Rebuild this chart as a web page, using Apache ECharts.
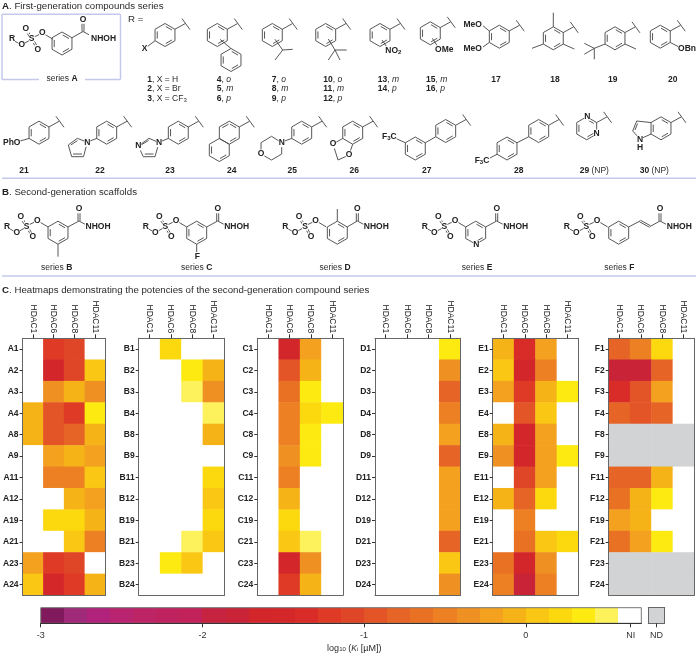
<!DOCTYPE html>
<html>
<head>
<meta charset="utf-8">
<style>html,body{margin:0;padding:0;background:#fff}#main{width:696px;height:655px}</style>
<script src="https://cdn.jsdelivr.net/npm/echarts@6/dist/echarts.min.js"></script>
</head>
<body>
<div id="main"></div>
<script>
var NI = 'NI', ND = 'ND';
var enzymes = ['HDAC1', 'HDAC6', 'HDAC8', 'HDAC11'];
var compoundNumbers = [1, 2, 3, 4, 8, 9, 11, 12, 19, 21, 23, 24];

var seriesA = [
	[NI, -1.21, -1.07, NI], [NI, -1.64, -1.07, 0.07], [NI, -0.36, -0.07, -0.36], [-0.07, -0.93, -1.21, 0.36],
	[-0.07, -0.93, -0.79, -0.07], [NI, -0.21, -0.07, -0.21], [NI, -0.5, -0.5, 0.07], [NI, NI, -0.07, -0.21],
	[NI, 0.21, 0.21, -0.07], [NI, NI, 0.07, -0.5], [-0.21, -1.21, -1.07, NI], [0.07, -1.5, -1.21, -0.07]
];
var seriesB = [
	[NI, 0.21, NI, NI], [NI, NI, 0.36, -0.07], [NI, NI, 0.5, -0.36], [NI, NI, NI, 0.5],
	[NI, NI, NI, -0.07], [NI, NI, NI, NI], [NI, NI, NI, 0.21], [NI, NI, NI, 0.07],
	[NI, NI, NI, 0.21], [NI, NI, 0.5, 0.07], [NI, 0.36, 0.07, NI], [NI, NI, NI, NI]
];
var seriesC = [
	[NI, -1.64, -0.21, NI], [NI, -0.93, -0.07, NI], [NI, -0.64, 0.36, NI], [NI, -0.5, 0.21, 0.36],
	[NI, -0.5, 0.36, NI], [NI, -0.36, 0.36, NI], [NI, -0.5, NI, NI], [NI, -0.07, NI, NI],
	[NI, 0.21, NI, NI], [NI, 0.07, 0.5, NI], [NI, -1.64, -0.36, NI], [NI, -1.21, -0.07, NI]
];
var seriesD = [
	[NI, NI, NI, 0.36], [NI, NI, NI, -0.36], [NI, NI, NI, -0.79], [NI, NI, NI, -0.5],
	[NI, NI, NI, -0.21], [NI, NI, NI, -0.79], [NI, NI, NI, -0.21], [NI, NI, NI, -0.21],
	[NI, NI, NI, -0.21], [NI, NI, NI, -0.79], [NI, NI, NI, 0.07], [NI, NI, NI, -0.36]
];
var seriesE = [
	[-0.07, -1.36, -0.21, NI], [0.07, -1.64, -0.5, NI], [-0.21, -1.21, -0.07, 0.36], [NI, -0.93, 0.07, NI],
	[-0.07, -1.64, -0.21, NI], [-0.36, -1.64, -0.21, 0.36], [NI, -1.07, -0.21, NI], [-0.07, -0.79, 0.21, NI],
	[NI, -0.5, NI, NI], [NI, -0.64, 0.07, 0.21], [-0.64, -1.64, -0.36, NI], [-0.5, -1.79, -0.5, NI]
];
var seriesF = [
	[-0.79, -0.5, 0.21, NI], [-1.79, -1.79, -0.79, NI], [-1.36, -0.93, -0.21, NI], [-0.79, -0.93, -0.79, NI],
	[ND, ND, ND, ND], [ND, ND, ND, ND], [-0.79, -0.79, -0.07, NI], [-0.64, -0.07, 0.36, NI],
	[-0.21, -0.07, NI, NI], [-0.64, -0.21, 0.36, NI], [ND, ND, ND, ND], [ND, ND, ND, ND]
];
var panelLetters = ['A', 'B', 'C', 'D', 'E', 'F'];
var panelValues = [seriesA, seriesB, seriesC, seriesD, seriesE, seriesF];
var panelLefts = [20, 138.7, 257.3, 375, 492.7, 608.7];

// colour bar: 7 steps per log unit from -3, the last step is the white NI one
var barColors = ['#801a5c', '#a02a7a', '#b0227c', '#b8246f', '#bc2466', '#bf235f', '#c1225a', '#c62340', '#c92338',
	'#d2262a', '#d4272a', '#d92b27', '#de3a25', '#df4627', '#e35527', '#e66526', '#e97124', '#ec8023', '#ef9122',
	'#f3a11e', '#f6b318', '#f9c714', '#fcd80f', '#fcea10', '#fdf15c', '#ffffff'];
var barStart = -3, barStep = 1 / 7, niTick = 0.649;
var barTicks = [-3, -2, -1, 0, niTick];
var NDcolor = '#d1d3d4';

function cellColor(v) {
	if (v === NI) return '#fff';
	if (v === ND) return NDcolor;
	return barColors[Math.floor((v - barStart) / barStep)];
}

// ---------- heatmaps ----------
var grids = [], xAxes = [], yAxes = [], series = [];
var frame = {lineStyle: {color: '#666', width: 1}};
var tickStyle = {color: '#333', width: 1};
panelLetters.forEach(function (letter, p) {
	var names = compoundNumbers.map(function (n) { return letter + n; });
	var data = [];
	panelValues[p].forEach(function (row, r) {
		row.forEach(function (v, c) {
			data.push({value: [c, r, v === NI || v === ND ? 0 : v], itemStyle: {color: cellColor(v)}});
		});
	});
	grids.push({left: panelLefts[p], top: 338.3, width: 85.6, height: 257});
	xAxes.push({
		gridIndex: p, type: 'category', position: 'top', data: enzymes, z: 5, axisLine: frame,
		axisTick: {show: true, alignWithLabel: true, length: 4, lineStyle: tickStyle},
		axisLabel: {rotate: 90, margin: 5, fontSize: 8.5, color: '#222', interval: 0, fontFamily: 'Liberation Sans'},
		splitLine: {show: false}
	});
	xAxes.push({
		gridIndex: p, type: 'category', position: 'bottom', data: enzymes, z: 5, axisLine: frame,
		axisTick: {show: false}, axisLabel: {show: false}
	});
	yAxes.push({
		gridIndex: p, type: 'category', inverse: true, position: 'left', data: names, z: 5, axisLine: frame,
		axisTick: {show: true, alignWithLabel: true, length: 3, lineStyle: tickStyle},
		axisLabel: {margin: 4, fontSize: 8.5, fontWeight: 'bold', color: '#222', interval: 0, fontFamily: 'Liberation Sans'},
		splitLine: {show: false}
	});
	yAxes.push({
		gridIndex: p, type: 'category', inverse: true, position: 'right', data: names, z: 5, axisLine: frame,
		axisTick: {show: false}, axisLabel: {show: false}
	});
	series.push({type: 'heatmap', xAxisIndex: p * 2, yAxisIndex: p * 2, data: data, silent: true});
});

// ---------- colour bar and ND box ----------
var barGrid = grids.length;
grids.push({left: 40.7, top: 607.7, width: 600.6, height: 15.6, show: true, borderColor: '#777', borderWidth: 1, z: 5, backgroundColor: 'transparent'});
xAxes.push({
	gridIndex: barGrid, type: 'value', min: barStart, max: barStart + barColors.length * barStep, z: 5,
	axisLine: {lineStyle: {color: '#333', width: 1}}, splitLine: {show: false},
	axisTick: {show: true, length: 4, customValues: barTicks, lineStyle: tickStyle},
	axisLabel: {margin: 8, fontSize: 9, color: '#333', customValues: barTicks, fontFamily: 'Liberation Sans',
		formatter: function (v) { return v === niTick ? NI : String(v); }}
});
yAxes.push({gridIndex: barGrid, type: 'value', min: 0, max: 1, show: false, splitLine: {show: false}});
series.push({
	type: 'custom', xAxisIndex: xAxes.length - 1, yAxisIndex: yAxes.length - 1, silent: true, z: 3,
	data: barColors.map(function (c, i) { return [barStart + i * barStep, barStart + (i + 1) * barStep]; }),
	renderItem: function (params, api) {
		var a = api.coord([api.value(0), 0]), b = api.coord([api.value(1), 1]);
		var x0 = Math.round(a[0]), x1 = Math.round(b[0]);
		return {type: 'rect', shape: {x: x0, y: b[1], width: x1 - x0, height: a[1] - b[1]},
			style: {fill: barColors[params.dataIndex]}};
	}
});
var ndGrid = grids.length;
grids.push({left: 648.3, top: 607.7, width: 16.4, height: 15.6});
xAxes.push({
	gridIndex: ndGrid, type: 'category', data: [ND], z: 5, axisLine: frame,
	axisTick: {show: true, alignWithLabel: true, length: 4, lineStyle: tickStyle},
	axisLabel: {margin: 8, fontSize: 9, color: '#333', fontFamily: 'Liberation Sans'}
});
xAxes.push({gridIndex: ndGrid, type: 'category', position: 'top', data: [ND], z: 5, axisLine: frame, axisTick: {show: false}, axisLabel: {show: false}});
yAxes.push({gridIndex: ndGrid, type: 'category', data: [''], z: 5, axisLine: frame, axisTick: {show: false}, axisLabel: {show: false}});
yAxes.push({gridIndex: ndGrid, type: 'category', position: 'right', data: [''], z: 5, axisLine: frame, axisTick: {show: false}, axisLabel: {show: false}});
series.push({type: 'heatmap', silent: true, xAxisIndex: xAxes.length - 2, yAxisIndex: yAxes.length - 2,
	data: [{value: [0, 0, 0], itemStyle: {color: NDcolor}}]});

// ---------- drawing helpers for the structures ----------
var gfx = [];
var BOND = '#444', INK = '#222', RULE = '#c5c8ea';
var rich = {
	b: {fontWeight: 'bold', fontSize: 8.5, fontFamily: 'Liberation Sans', fill: INK},
	n: {fontSize: 8.5, fontFamily: 'Liberation Sans', fill: '#2a2a2a'},
	i: {fontStyle: 'italic', fontSize: 8.5, fontFamily: 'Liberation Sans', fill: '#2a2a2a'},
	s: {fontSize: 6, fontFamily: 'Liberation Sans', fill: '#2a2a2a', padding: [3, 0, 0, 0]},
	bs: {fontWeight: 'bold', fontSize: 6, fontFamily: 'Liberation Sans', fill: INK, padding: [3, 0, 0, 0]},
	h: {fontSize: 9.7, fontFamily: 'Liberation Sans', fill: '#2a2a2a'},
	hb: {fontSize: 9.7, fontWeight: 'bold', fontFamily: 'Liberation Sans', fill: INK},
	ln: {fontSize: 9, fontFamily: 'Liberation Sans', fill: '#2a2a2a'}
};
function bond(x1, y1, x2, y2, w, color) {
	gfx.push({type: 'line', silent: true, z: 10, shape: {x1: x1, y1: y1, x2: x2, y2: y2},
		style: {stroke: color || BOND, lineWidth: w || 0.9, fill: null}});
}
function dbl(x1, y1, x2, y2, off) {
	var dx = x2 - x1, dy = y2 - y1, l = Math.sqrt(dx * dx + dy * dy), nx = -dy / l * off, ny = dx / l * off;
	bond(x1 + nx, y1 + ny, x2 + nx, y2 + ny);
	bond(x1 - nx, y1 - ny, x2 - nx, y2 - ny);
}
function txt(x, y, str, align, extra) {
	var style = {x: x, y: y, text: str, rich: rich, align: align || 'center', verticalAlign: 'middle',
		fontFamily: 'Liberation Sans', fontSize: 8.5, fill: INK};
	for (var k in extra) style[k] = extra[k];
	gfx.push({type: 'text', silent: true, z: 12, style: style});
}
function atom(x, y, str) {
	txt(x, y, str, 'center', {backgroundColor: '#fff'});
}
function ring(cx, cy, r, sides) {
	var v = [];
	for (var i = 0; i < 6; i++) {
		var a = (-90 + 60 * i) * Math.PI / 180;
		v.push({x: cx + r * Math.cos(a), y: cy + r * Math.sin(a)});
	}
	for (i = 0; i < 6; i++) {
		var p = v[i], q = v[(i + 1) % 6];
		bond(p.x, p.y, q.x, q.y);
		if ((sides || [0, 2, 4]).indexOf(i) >= 0) {
			var k = 0.78, px = cx + (p.x - cx) * k, py = cy + (p.y - cy) * k, qx = cx + (q.x - cx) * k, qy = cy + (q.y - cy) * k;
			bond(px + (qx - px) * 0.1, py + (qy - py) * 0.1, qx - (qx - px) * 0.1, qy - (qy - py) * 0.1);
		}
	}
	return v;
}
function tail(p) {
	bond(p.x, p.y, p.x + 10.3, p.y - 5.7);
	bond(p.x + 7, p.y - 10.7, p.x + 15, p.y + 0.3);
}
function path(pts) {
	for (var i = 0; i + 1 < pts.length; i++) bond(pts[i][0], pts[i][1], pts[i + 1][0], pts[i + 1][1]);
}
function sulfonate(rx, ry) {
	bond(rx + 2.5, ry + 2, rx + 7.5, ry + 4.8);
	bond(rx + 12, ry + 4.5, rx + 17.5, ry + 1.5);
	dbl(rx + 18.3, ry - 2.5, rx + 15, ry - 7.5, 0.9);
	dbl(rx + 21.5, ry + 2.5, rx + 24.5, ry + 7.8, 0.9);
	bond(rx + 22.5, ry - 2.2, rx + 28, ry - 4.8);
	bond(rx + 33, ry - 4.5, rx + 41, ry + 0.25);
	atom(rx, ry, '{b|R}');
	atom(rx + 9.7, ry + 6, '{b|O}');
	atom(rx + 19.7, ry - 0.4, '{b|S}');
	atom(rx + 13.7, ry - 10, '{b|O}');
	atom(rx + 25.7, ry + 10.4, '{b|O}');
	atom(rx + 30.3, ry - 6, '{b|O}');
}
function hydroxamate(cx, cy, nx, ny) {
	dbl(cx, cy, cx, cy - 9, 1);
	bond(cx, cy, cx + 6, cy + 3.2);
	atom(cx, cy - 12.2, '{b|O}');
	txt(nx, ny, '{b|NHOH}');
}

// ---------- rules and section headings ----------
bond(2, 178.3, 696, 178.3, 1.5, RULE);
bond(2, 276, 696, 276, 1.5, RULE);
txt(2, 6, '{hb|A}{h|. First-generation compounds series}', 'left');
txt(2, 192.7, '{hb|B}{h|. Second-generation scaffolds}', 'left');
txt(2, 290, '{hb|C}{h|. Heatmaps demonstrating the potencies of the second-generation compound series}', 'left');

// ---------- series A box ----------
bond(39, 79.5, 2, 79.5, 1.5, RULE);
bond(2, 79.5, 2, 14.3, 1.5, RULE);
bond(2, 14.3, 120.5, 14.3, 1.5, RULE);
bond(120.5, 14.3, 120.5, 79.5, 1.5, RULE);
bond(120.5, 79.5, 85, 79.5, 1.5, RULE);
sulfonate(12, 39);
var vA = ring(62, 43.5, 11.5);
bond(vA[1].x, vA[1].y, 83, 31.5);
hydroxamate(83, 31.5, 103.5, 38.5);
txt(62, 78.5, '{n|series }{b|A}');
txt(128, 19, '{h|R =}', 'left');

// ---------- first row of R groups ----------
var v = ring(165, 35, 11.5); tail(v[1]);
bond(v[4].x, v[4].y, 147.5, 46.5); atom(144.7, 48.3, '{b|X}');
v = ring(217.3, 35, 11.5, [0, 2, 4]); tail(v[1]);
bond(220, 39.3, 231, 48.5); ring(231, 60, 11.5);
v = ring(272.3, 35, 11.5); tail(v[1]);
path([[275, 39.3], [282.7, 50], [292.7, 49.3]]); bond(282.7, 50, 275, 60);
v = ring(325.7, 35, 11.5); tail(v[1]);
path([[328.3, 39], [335, 50], [346.7, 50]]); bond(335, 50, 328.3, 60); bond(335, 50, 340, 60);
v = ring(380, 35, 11.5); tail(v[1]);
bond(382, 40, 386.7, 46.7); atom(393.3, 50.7, '{b|NO}{bs|2}');
v = ring(430.3, 33.3, 11.5); tail(v[1]);
bond(432.3, 38.3, 437, 45.5); atom(444.3, 50, '{b|OMe}');
v = ring(499.3, 36.7, 11.5); tail(v[1]);
bond(v[5].x, v[5].y, 483, 25.8); bond(v[4].x, v[4].y, 483, 47); atom(472.7, 24.3, '{b|MeO}'); atom(472.7, 48.3, '{b|MeO}');
v = ring(553.3, 38.3, 11.5); tail(v[1]);
bond(v[0].x, v[0].y, 553.3, 12.7); bond(v[4].x, v[4].y, 532, 48.3); bond(v[2].x, v[2].y, 574.3, 49);
v = ring(615, 38.3, 11.5); tail(v[1]);
bond(v[4].x, v[4].y, 594.3, 48.3); bond(594.3, 48.3, 584.3, 43.3); bond(594.3, 48.3, 584.3, 54.3); bond(594.3, 48.3, 594.3, 59.3);
bond(v[2].x, v[2].y, 636, 49);
v = ring(660.3, 36.7, 11.5); tail(v[1]);
bond(v[2].x, v[2].y, 679, 47); atom(687, 48.3, '{b|OBn}');

txt(147.3, 79.3, '{b|1}{n|, X = H}', 'left');
txt(147.3, 89, '{b|2}{n|, X = Br}', 'left');
txt(147.3, 99, '{b|3}{n|, X = CF}{s|3}', 'left');
[[216.7, 4, 'o'], [216.7, 5, 'm'], [216.7, 6, 'p'], [271.7, 7, 'o'], [271.7, 8, 'm'], [271.7, 9, 'p'],
	[323.3, 10, 'o'], [323.3, 11, 'm'], [323.3, 12, 'p'], [377.7, 13, 'm'], [377.7, 14, 'p'], [426, 15, 'm'], [426, 16, 'p']
].forEach(function (t) {
	var rowY = (t[1] >= 13 ? (t[2] === 'm' ? 79.3 : 89) : (t[2] === 'o' ? 79.3 : t[2] === 'm' ? 89 : 99));
	txt(t[0], rowY, '{b|' + t[1] + '}{n|, }{i|' + t[2] + '}', 'left');
});
txt(496, 79.3, '{b|17}'); txt(555, 79.3, '{b|18}'); txt(612.7, 79.3, '{b|19}'); txt(672.7, 79.3, '{b|20}');

// ---------- second row of R groups ----------
v = ring(39, 132.7, 11.5); tail(v[1]);
bond(v[4].x, v[4].y, 20, 141); atom(11.7, 142.7, '{b|PhO}');
v = ring(106.7, 132.7, 11.5); tail(v[1]);
bond(v[4].x, v[4].y, 90, 141);
path([[87.3, 142.3], [83.5, 156.7], [71.7, 156.7], [68.3, 145], [77.3, 138.3], [87.3, 142.3]]);
bond(82, 154, 73, 154); bond(70.8, 145, 77.5, 140.5);
atom(87.3, 142.3, '{b|N}');
v = ring(178.3, 132.7, 11.5); tail(v[1]);
bond(v[4].x, v[4].y, 162, 141);
path([[159, 142.7], [155, 156.7], [143.3, 156.7], [138.3, 146], [149, 138.3], [159, 142.7]]);
bond(153.5, 154, 144.8, 154); bond(141, 145, 148.5, 140.5);
atom(159, 142.7, '{b|N}'); atom(138.3, 146, '{b|N}');
v = ring(229.3, 132.7, 11.5, [0, 2, 5]); tail(v[1]);
ring(219.3, 150, 11.5, [2, 4]);
v = ring(301.7, 132.7, 11.5); tail(v[1]);
bond(v[4].x, v[4].y, 284.5, 141);
path([[281.7, 142.7], [271.5, 136.3], [261, 142.7], [261, 154]]); path([[261, 154], [271.5, 160], [281.7, 154], [281.7, 142.7]]);
atom(281.7, 142.7, '{b|N}'); atom(261, 154, '{b|O}');
v = ring(352.7, 132.7, 11.5); tail(v[1]);
path([[v[4].x, v[4].y], [333, 144]]); path([[333, 144], [338, 160], [349, 155]]); path([[349, 155], [v[3].x, v[3].y]]);
atom(333, 144, '{b|O}'); atom(349, 155, '{b|O}');
v = ring(445.7, 131, 11.5); tail(v[1]);
var v2 = ring(415.3, 148.5, 11.5);
bond(v[4].x, v[4].y, v2[1].x, v2[1].y);
bond(v2[5].x, v2[5].y, 396, 138.5); atom(389.3, 136.7, '{b|F}{bs|3}{b|C}');
v = ring(538.7, 131, 11.5); tail(v[1]);
v2 = ring(507, 148.5, 11.5);
bond(v[4].x, v[4].y, v2[1].x, v2[1].y);
bond(v2[4].x, v2[4].y, 490, 158); atom(482, 160.7, '{b|F}{bs|3}{b|C}');
v = ring(586.7, 128.3, 11.5); tail(v[1]);
atom(v[0].x + 0.5, v[0].y - 0.5, '{b|N}'); atom(v[2].x, v[2].y, '{b|N}');
v = ring(661, 128.3, 11.5); tail(v[1]);
path([[v[5].x, v[5].y], [636.7, 121], [632.7, 131], [640, 139], [v[4].x, v[4].y]]);
bond(637.5, 123.5, 635, 130);
atom(640, 140, '{b|N}'); atom(640, 148, '{b|H}');

[[24, 21], [100, 22], [170, 23], [231.7, 24], [292.3, 25], [354.3, 26], [426.7, 27], [518.7, 28]].forEach(function (t) {
	txt(t[0], 170.7, '{b|' + t[1] + '}');
});
txt(594.3, 170.7, '{b|29}{n| (NP)}');
txt(654.3, 170.7, '{b|30}{n| (NP)}');

// ---------- second-generation scaffolds ----------
var scaffoldY = 226.7;
sulfonate(7, scaffoldY); v = ring(58, 232.7, 11.5);
bond(v[1].x, v[1].y, 79, 221); hydroxamate(79, 221, 98, scaffoldY);
bond(v[3].x, v[3].y, 58, 256.7);
sulfonate(145.7, scaffoldY); v = ring(196.7, 232.7, 11.5);
bond(v[1].x, v[1].y, 217.7, 221); hydroxamate(217.7, 221, 236.7, scaffoldY);
bond(v[3].x, v[3].y, 196.7, 252); atom(197.3, 256.7, '{b|F}');
sulfonate(285.3, scaffoldY); v = ring(337.3, 232.7, 11.5);
bond(v[1].x, v[1].y, 357.3, 221); hydroxamate(357.3, 221, 376.3, scaffoldY);
bond(v[0].x, v[0].y, v[0].x, 209);
sulfonate(424.7, scaffoldY); v = ring(475.7, 232.7, 11.5);
bond(v[1].x, v[1].y, 496.7, 221); hydroxamate(496.7, 221, 515.7, scaffoldY);
atom(v[3].x + 0.7, v[3].y + 0.8, '{b|N}');
sulfonate(566.7, scaffoldY); v = ring(618.7, 232.7, 11.5);
path([[v[1].x, v[1].y], [640, 221]]); dbl(640, 221, 650, 226.5, 0.9); bond(650, 226.5, 660, 221);
hydroxamate(660, 221, 679.3, scaffoldY);
txt(56.7, 267.7, '{n|series }{b|B}'); txt(196.7, 267.7, '{n|series }{b|C}'); txt(335, 267.7, '{n|series }{b|D}');
txt(477, 267.7, '{n|series }{b|E}'); txt(619.3, 267.7, '{n|series }{b|F}');

// colour bar title
txt(354.3, 648.3, '{ln|log}{s|10}{ln| (}{i|K}{s|i}{ln| [µM])}');

echarts.init(document.getElementById('main')).setOption({
	animation: false,
	backgroundColor: '#fff',
	textStyle: {fontFamily: 'Liberation Sans'},
	tooltip: {show: false},
	grid: grids,
	xAxis: xAxes,
	yAxis: yAxes,
	series: series,
	graphic: {elements: gfx}
});
</script>
</body>
</html>
